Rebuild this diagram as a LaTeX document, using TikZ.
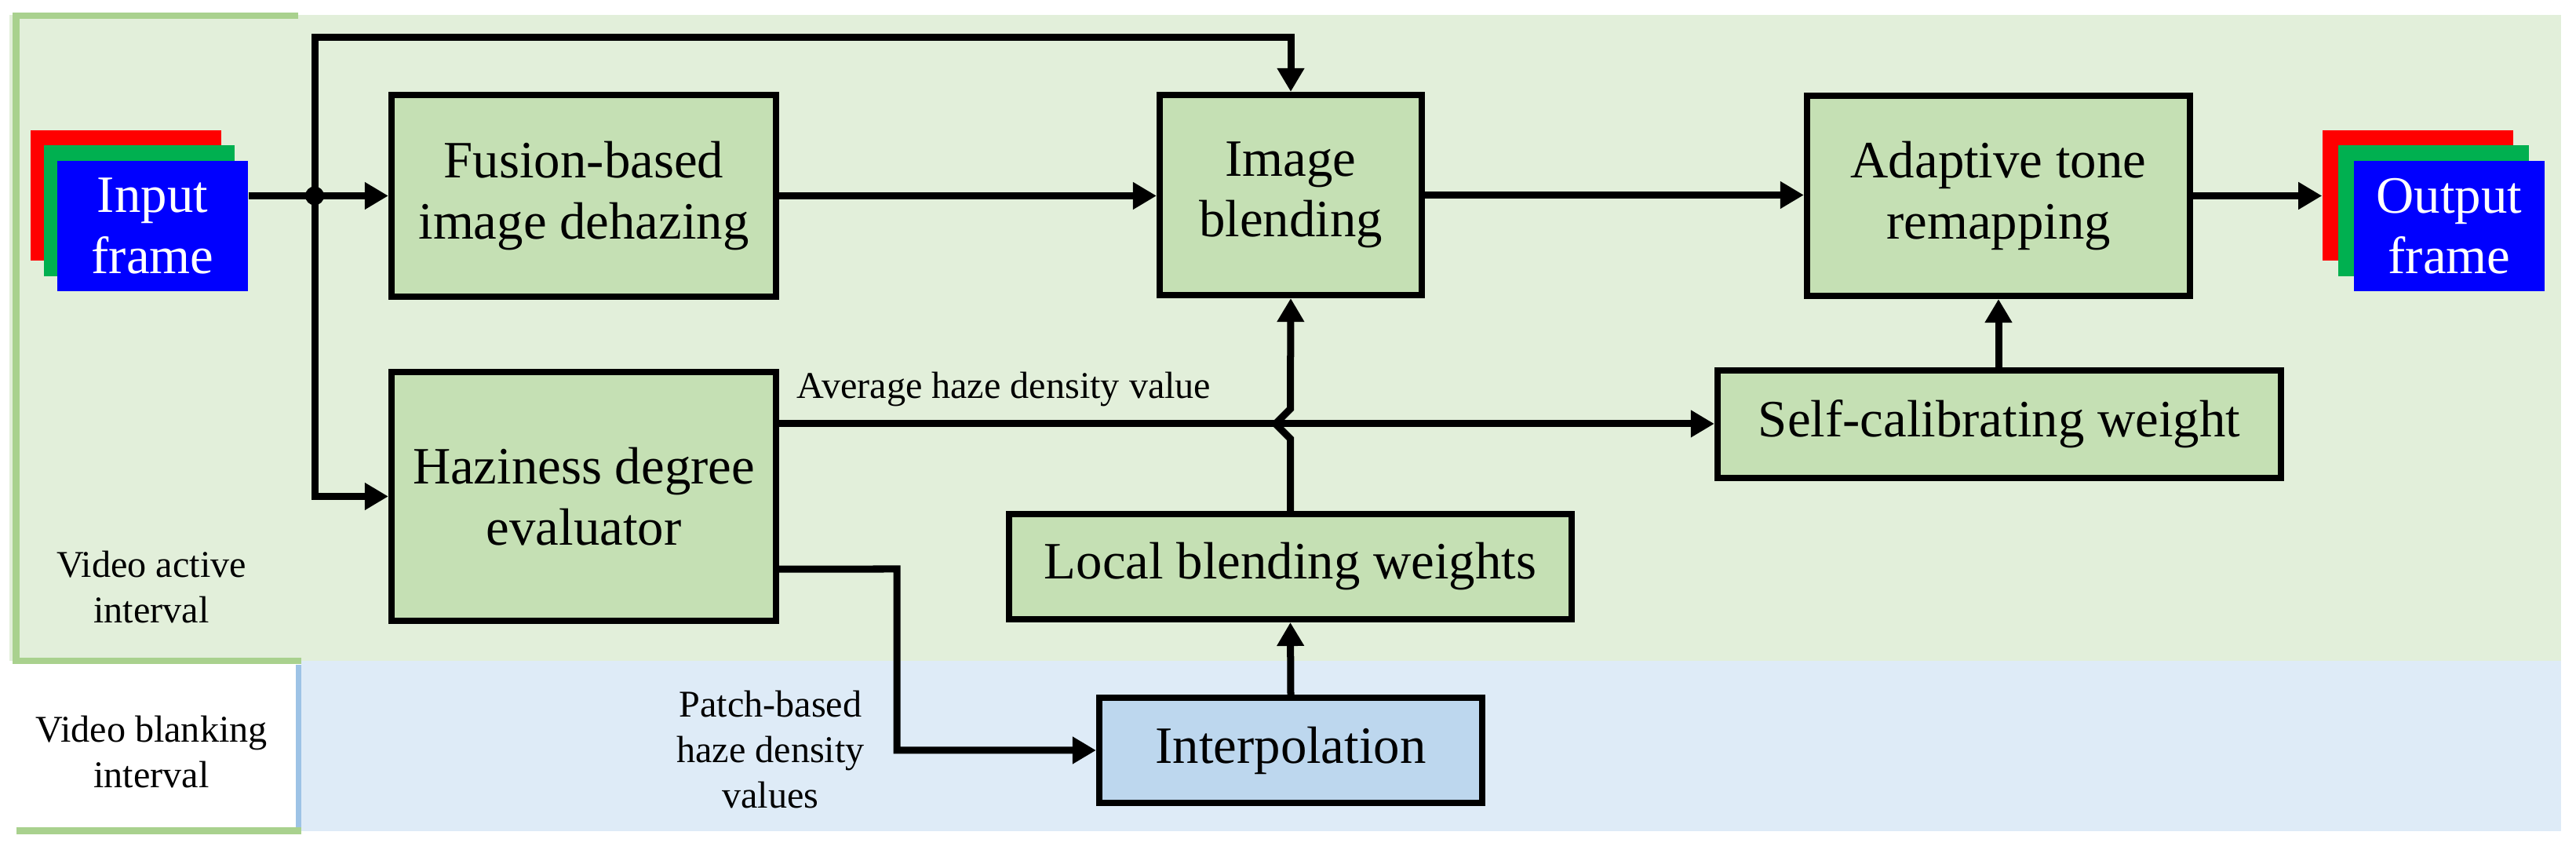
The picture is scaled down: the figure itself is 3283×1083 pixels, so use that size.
\documentclass[tikz,border=0pt]{standalone}
\usepackage{fontspec}
\setmainfont{Liberation Serif}
\usetikzlibrary{positioning, arrows.meta, calc}
\definecolor{boxgreen}{HTML}{C5E0B4}
\definecolor{activegreen}{HTML}{E2EFDA}
\definecolor{bordergreen}{HTML}{A9D18E}
\definecolor{blankblue}{HTML}{DEEBF7}
\definecolor{interpblue}{HTML}{BDD7EE}
\definecolor{borderblue}{HTML}{9DC3E6}
\definecolor{framered}{HTML}{FF0000}
\definecolor{framegreen}{HTML}{00B050}
\definecolor{frameblue}{HTML}{0000FF}

\begin{document}
\begin{tikzpicture}[
        x=0.01cm, y=-0.01cm,
        blk/.style={rectangle, draw=black, fill=boxgreen, line width=0.085cm,
                    inner sep=0pt, align=center, font=\fontsize{19}{22}\selectfont},
        frm/.style={rectangle, inner sep=0pt, minimum width=2.43cm, minimum height=1.66cm,
                    align=center, text=white, font=\fontsize{19}{22}\selectfont},
        note/.style={align=center, inner sep=0pt, font=\fontsize{13.7}{16.5}\selectfont},
        flow/.style={-{Triangle[length=0.3cm, width=0.33cm]}, line width=0.09cm},
        wire/.style={line width=0.09cm}
      ]
        \useasboundingbox (0,0) rectangle (3283,1083);

        % interval panels
        \fill[activegreen] (12,19) rectangle (3264,842);
        \fill[blankblue] (384,842) rectangle (3264,1059);
        \draw[bordergreen, line width=0.08cm] (380,19.8) -- (20.5,19.8) -- (20.5,842.5) -- (384,842.5);
        \draw[borderblue, line width=0.07cm] (380.5,847) -- (380.5,1054);
        \draw[bordergreen, line width=0.09cm] (21,1058.5) -- (384,1058.5);
        \node[note] (activelbl) at (193,748) {Video active\\interval};
        \node[note] (blanklbl) at (193,958) {Video blanking\\interval};

        % frames
        \node[frm, fill=framered] (inRed) at (160.5,249) {};
        \node[frm, fill=framegreen] (inGreen) at (177.5,268.5) {};
        \node[frm, fill=frameblue] (inBlue) at (194.5,288) {Input\\frame};
        \node[frm, fill=framered] (outRed) at (3081.5,249) {};
        \node[frm, fill=framegreen] (outGreen) at (3101.5,268.5) {};
        \node[frm, fill=frameblue] (outBlue) at (3121.5,288) {Output\\frame};

        % processing blocks
        \node[blk, minimum width=4.895cm, minimum height=2.565cm] (fusion) at (744,249.5) {Fusion-based\\image dehazing};
        \node[blk, minimum width=4.895cm, minimum height=3.165cm] (hazy) at (744,632.5) {Haziness degree\\evaluator};
        \node[blk, minimum width=3.335cm, minimum height=2.545cm] (blend) at (1645,248.5) {Image\\blending};
        \node[blk, minimum width=4.875cm, minimum height=2.545cm] (adapt) at (2547,249.5) {Adaptive tone\\remapping};
        \node[blk, minimum width=7.175cm, minimum height=1.365cm] (selfcal) at (2548,540.5) {Self-calibrating weight};
        \node[blk, minimum width=7.165cm, minimum height=1.335cm] (local) at (1644.5,722) {Local blending weights};
        \node[blk, fill=interpblue, minimum width=4.875cm, minimum height=1.335cm] (interp) at (1645,956) {Interpolation};

        % connectors
        \coordinate (split) at (401,249.5);
        \coordinate (topline) at (401,48);
        \coordinate (avgout) at ([yshift=0.925cm]hazy.east);
        \coordinate (patchout) at ([yshift=-0.925cm]hazy.east);
        \coordinate (patchturn) at (1143,725);
        \coordinate (hop) at (local.north |- avgout);

        \draw[wire] (inBlue.east |- fusion.west) -- (split);
        \draw[flow] (split) -- (fusion.west);
        \fill (split) circle (0.12cm);
        \draw[flow] (split) |- (hazy.west);
        \draw[flow] (split) -- (topline) -| (blend.north);
        \draw[flow] (fusion.east) -- (fusion.east -| blend.west);
        \draw[flow] (blend.east) -- (blend.east -| adapt.west);
        \draw[flow] (adapt.east) -- (adapt.east -| outRed.west);
        \draw[flow] (adapt.south |- selfcal.north) -- (adapt.south);
        \draw[flow] (avgout) -- (avgout -| selfcal.west);
        \node[note, anchor=base west] (avglbl) at ([xshift=0.22cm, yshift=0.32cm]avgout) {Average haze density value};
        \draw[flow] (local.north) -- ([yshift=-0.19cm]hop) -- ([xshift=-0.19cm]hop) -- ([yshift=0.19cm]hop) -- (blend.south);
        \draw[flow] (interp.north) -- (local.south);
        \draw[flow] (patchout) -- (patchturn) |- (interp.west);
        \node[note] (patchlbl) at (982,955) {Patch-based\\haze density\\values};
      \end{tikzpicture}
\end{document}
